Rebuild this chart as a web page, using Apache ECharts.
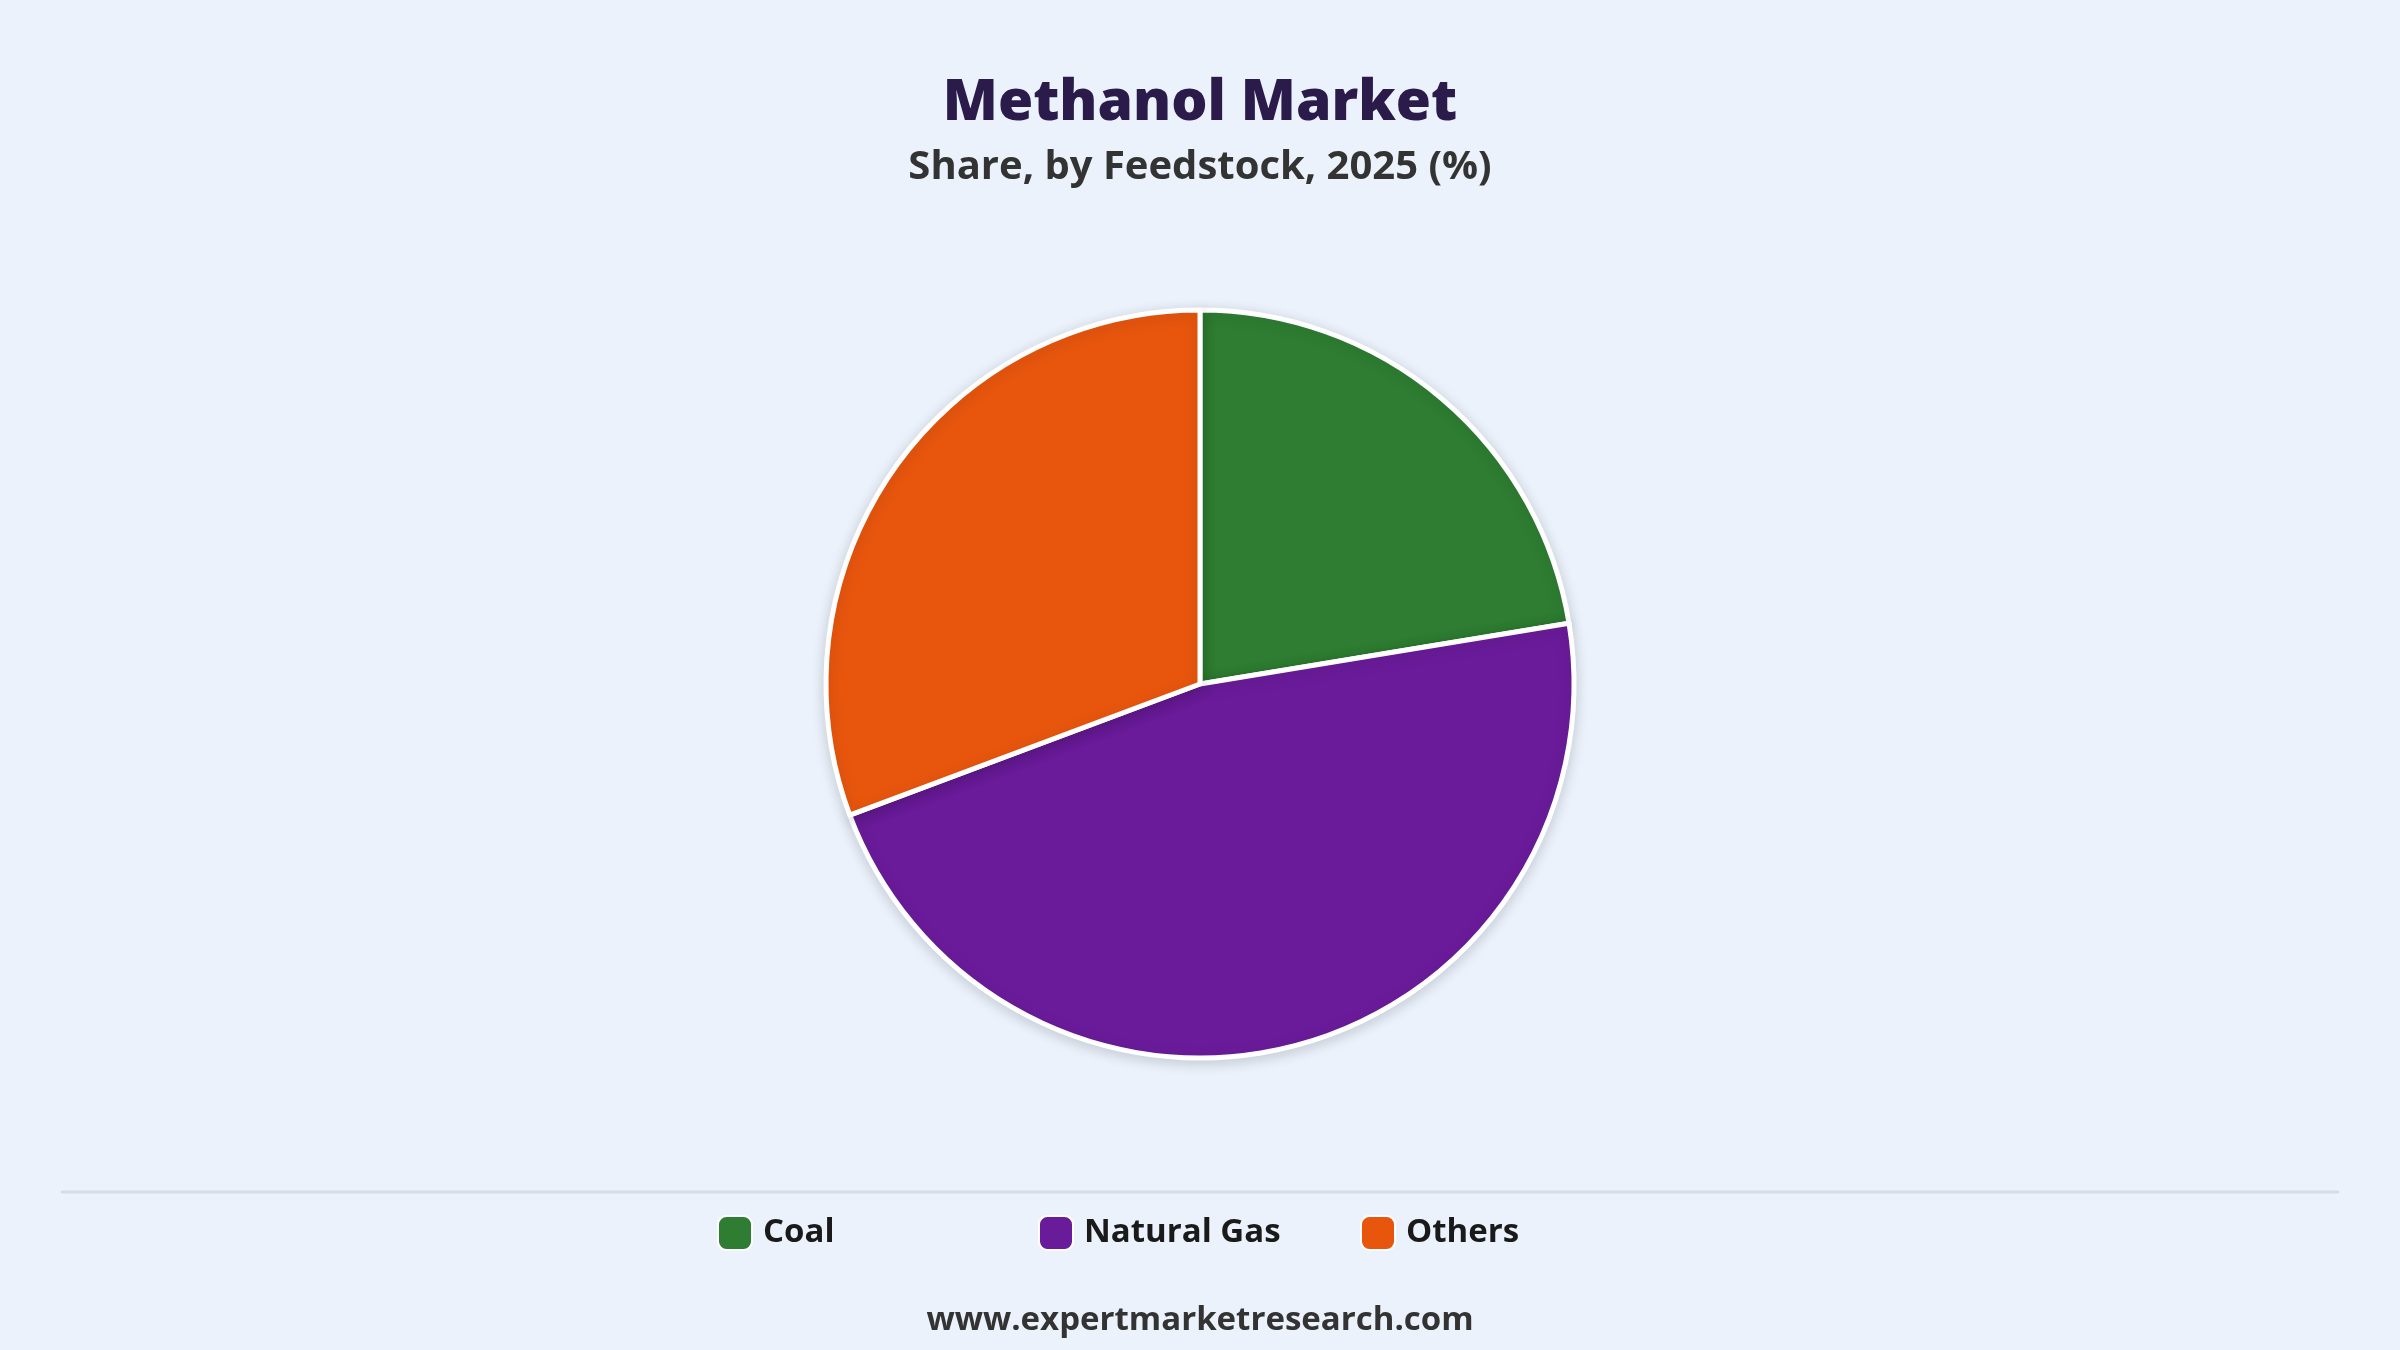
<!DOCTYPE html>
<html><head><meta charset="utf-8">
<script src="https://cdn.jsdelivr.net/npm/echarts@6/dist/echarts.min.js"></script>
<style>html,body{margin:0;padding:0;background:#EBF2FC;}#c{width:2400px;height:1350px;}</style>
</head><body><div id="c"></div>
<script>
const categories = ["Coal", "Natural Gas", "Others"];
const values = [22.4, 46.9, 30.7];
const colors = ["#2E7D32", "#6A1B9A", "#E8560E"];
const legendLefts = [712, 1033, 1355];
const font = "'Open Sans', 'Noto Sans', sans-serif";
const chart = echarts.init(document.getElementById('c'));
chart.setOption({
  backgroundColor: '#EBF2FC',
  title: [
    {text: 'Methanol Market', left: 'center', top: 70,
     textStyle: {fontFamily: font, fontSize: 57, fontWeight: 900, color: '#2A1B4A'}},
    {text: 'Share, by Feedstock, 2025 (%)', left: 'center', top: 143,
     textStyle: {fontFamily: font, fontSize: 40, fontWeight: 'bold', color: '#333333'}},
    {text: 'www.expertmarketresearch.com', left: 'center', top: 1299,
     textStyle: {fontFamily: font, fontSize: 33, fontWeight: 'bold', color: '#333333'}}
  ],
  legend: categories.map((c, i) => ({
    data: [c], left: legendLefts[i], top: 1210,
    icon: 'roundRect', itemWidth: 34, itemHeight: 34, itemGap: 15,
    textStyle: {fontFamily: font, fontSize: 33, fontWeight: 'bold', color: '#1a1a1a', padding: [0, 0, 0, 6]}
  })),
  graphic: [{type: 'line', shape: {x1: 61, y1: 1192, x2: 2339, y2: 1192},
    style: {stroke: '#D9DCE2', lineWidth: 3}}],
  series: [{
    type: 'pie', center: [1200, 684], radius: [0, 374], startAngle: 90, clockwise: true,
    label: {show: false}, labelLine: {show: false},
    itemStyle: {borderColor: '#ffffff', borderWidth: 5, shadowBlur: 14, shadowColor: 'rgba(0,0,0,0.15)', shadowOffsetY: 3},
    emphasis: {disabled: true},
    data: categories.map((n, i) => ({name: n, value: values[i], itemStyle: {color: colors[i]}}))
  }]
});
</script></body></html>
